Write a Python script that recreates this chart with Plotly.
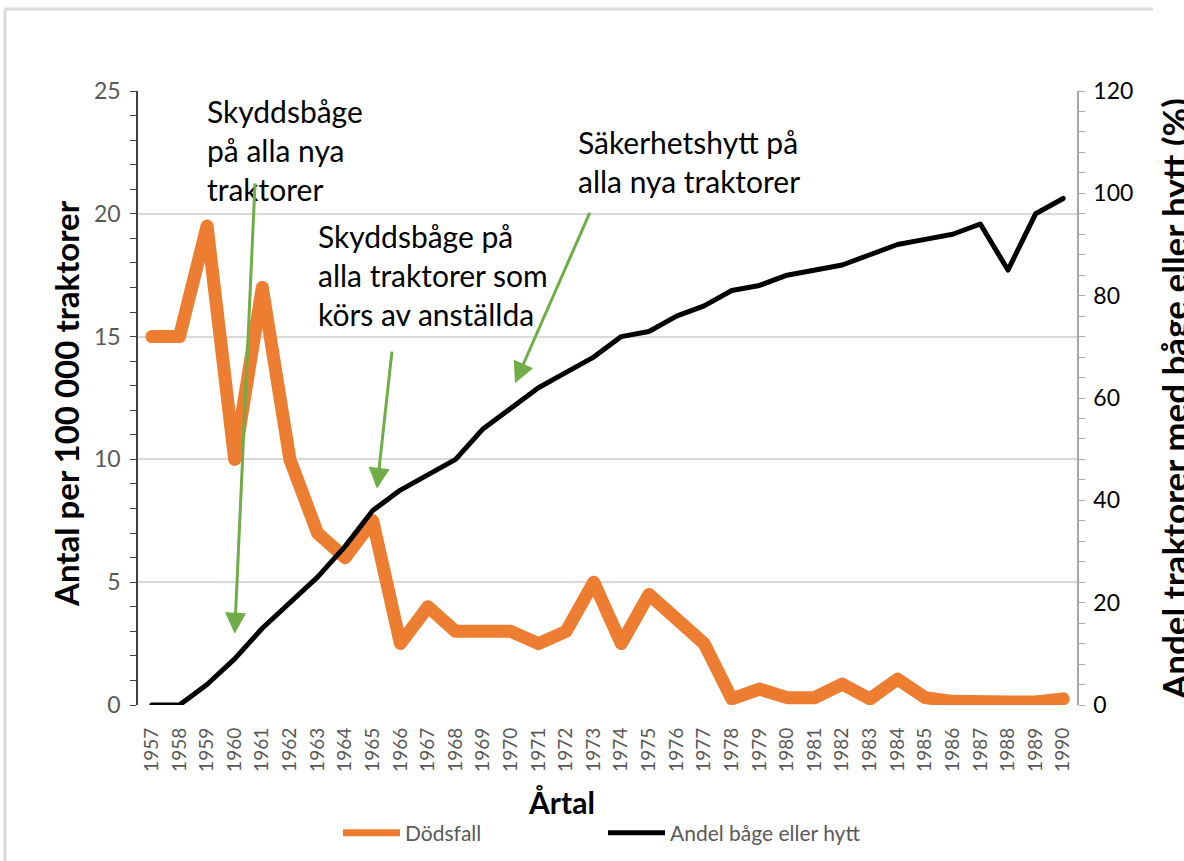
import plotly.graph_objects as go

years = [str(y) for y in range(1957, 1991)]
dodsfall = [15, 15, 19.5, 10, 17, 10, 7, 6, 7.5, 2.5, 4, 3, 3, 3, 2.5, 3, 5, 2.5, 4.5, 3.5,
            2.5, 0.25, 0.65, 0.3, 0.3, 0.85, 0.25, 1.05, 0.3, 0.15, 0.2, 0.12, 0.12, 0.25]
andel = [0, 0, 4, 9, 15, 20, 25, 31, 38, 42, 45, 48, 54, 58, 62, 65, 68, 72, 73, 76,
         78, 81, 82, 84, 85, 86, 88, 90, 91, 92, 94, 85, 96, 99]

W, H = 1184, 861
L, R, T, B = 138, 1077, 91, 705
FONT = "Lato"

def px(x):
    return (x - L) / (R - L)

def py(y):
    return (B - y) / (B - T)

fig = go.Figure()
fig.add_trace(go.Scatter(x=years, y=dodsfall, mode="lines", name="Dödsfall", showlegend=False,
                         line=dict(color="#ED7D31", width=13), yaxis="y"))
fig.add_trace(go.Scatter(x=years, y=andel, mode="lines", name="Andel båge eller hytt", showlegend=False,
                         line=dict(color="#000000", width=5), yaxis="y2"))
# legend entries (same series, legend-sized strokes)
fig.add_trace(go.Scatter(x=[None], y=[None], mode="lines", name="Dödsfall",
                         line=dict(color="#ED7D31", width=7), yaxis="y"))
fig.add_trace(go.Scatter(x=[None], y=[None], mode="lines", name="Andel båge eller hytt",
                         line=dict(color="#000000", width=5), yaxis="y2"))

annotations = []
annotations.append(dict(text="<b>Antal per 100 000 traktorer</b>", xref="paper", yref="paper",
                        x=px(66), y=py(404), textangle=-90, showarrow=False,
                        font=dict(family=FONT, size=33, color="#000000"),
                        xanchor="center", yanchor="middle"))
annotations.append(dict(text="<b>Andel traktorer med båge eller hytt (%)</b>", xref="paper", yref="paper",
                        x=px(1174), y=py(399), textangle=-90, showarrow=False,
                        font=dict(family=FONT, size=35, color="#000000"),
                        xanchor="center", yanchor="middle"))
annotations.append(dict(text="<b>Årtal</b>", xref="paper", yref="paper",
                        x=px(561), y=py(802), showarrow=False,
                        font=dict(family=FONT, size=30, color="#000000"),
                        xanchor="center", yanchor="middle"))

txt_font = dict(family=FONT, size=30, color="#000000")
annotations.append(dict(text="Skyddsbåge<br>på alla nya<br>traktorer", xref="paper", yref="paper",
                        x=px(205), y=py(150), showarrow=False, align="left",
                        xanchor="left", yanchor="middle", font=txt_font))
annotations.append(dict(text="Skyddsbåge på<br>alla traktorer som<br>körs av anställda", xref="paper", yref="paper",
                        x=px(316), y=py(275), showarrow=False, align="left",
                        xanchor="left", yanchor="middle", font=txt_font))
annotations.append(dict(text="Säkerhetshytt på<br>alla nya traktorer", xref="paper", yref="paper",
                        x=px(576), y=py(161), showarrow=False, align="left",
                        xanchor="left", yanchor="middle", font=txt_font))

arrows = [((3.0, 2.9), (3.74, 21.3)),
          ((8.15, 8.8), (8.7, 14.45)),
          ((13.15, 13.1), (15.88, 20.1))]
for (hx, hy), (tx, ty) in arrows:
    annotations.append(dict(text="", x=hx, y=hy, ax=tx, ay=ty, xref="x", yref="y",
                            axref="x", ayref="y", showarrow=True, arrowhead=2,
                            arrowsize=1.4, arrowwidth=3, arrowcolor="#70AD47"))

shapes = [
    dict(type="line", xref="paper", yref="paper", x0=px(5), x1=px(1153), y0=py(9), y1=py(9),
         line=dict(color="#DADADA", width=3)),
    dict(type="line", xref="paper", yref="paper", x0=px(5), x1=px(5), y0=py(9), y1=py(870),
         line=dict(color="#DADADA", width=3)),
]

fig.update_layout(
    width=W, height=H, autosize=False,
    margin=dict(l=L, r=W - R, t=T, b=H - B, pad=0, autoexpand=False),
    paper_bgcolor="white", plot_bgcolor="white",
    font=dict(family=FONT, color="#595959"),
    showlegend=True,
    legend=dict(orientation="h", x=px(338), y=py(833), xanchor="left", yanchor="middle",
                font=dict(family=FONT, size=21, color="#595959"),
                itemwidth=57, entrywidth=193, entrywidthmode="pixels",
                bgcolor="rgba(0,0,0,0)"),
    xaxis=dict(type="category", range=[-0.5, 33.5], tickangle=-90, showgrid=False,
               showline=False, ticks="", tickfont=dict(family=FONT, size=19, color="#595959"),
               ticklabelstandoff=18, zeroline=False),
    yaxis=dict(range=[0, 25], dtick=5, showgrid=True, gridcolor="#D9D9D9", gridwidth=1.5,
               showline=True, linecolor="#404040", linewidth=1.5,
               ticks="outside", ticklen=6, tickcolor="#404040",
               minor=dict(dtick=1, ticks="outside", ticklen=6, tickcolor="#404040", showgrid=False),
               tickfont=dict(family=FONT, size=23, color="#595959"), zeroline=False,
               ticklabelstandoff=5),
    yaxis2=dict(range=[0, 120], dtick=20, overlaying="y", side="right", showgrid=False,
                showline=True, linecolor="#A6A6A6", linewidth=1.5,
                ticks="outside", ticklen=6, tickcolor="#A6A6A6",
                minor=dict(dtick=4, ticks="outside", ticklen=6, tickcolor="#A6A6A6"),
                tickfont=dict(family=FONT, size=23, color="#000000"), zeroline=False,
                ticklabelstandoff=4),
    annotations=annotations,
    shapes=shapes,
)

post = """
document.body.style.margin='0';
document.body.style.overflow='hidden';
document.querySelectorAll('.scatterlayer .js-line').forEach(function(p){
  p.style.strokeLinejoin='round'; p.style.strokeLinecap='round';
});
"""
fig.write_html("out.html", post_script=post, config={"displayModeBar": False})
